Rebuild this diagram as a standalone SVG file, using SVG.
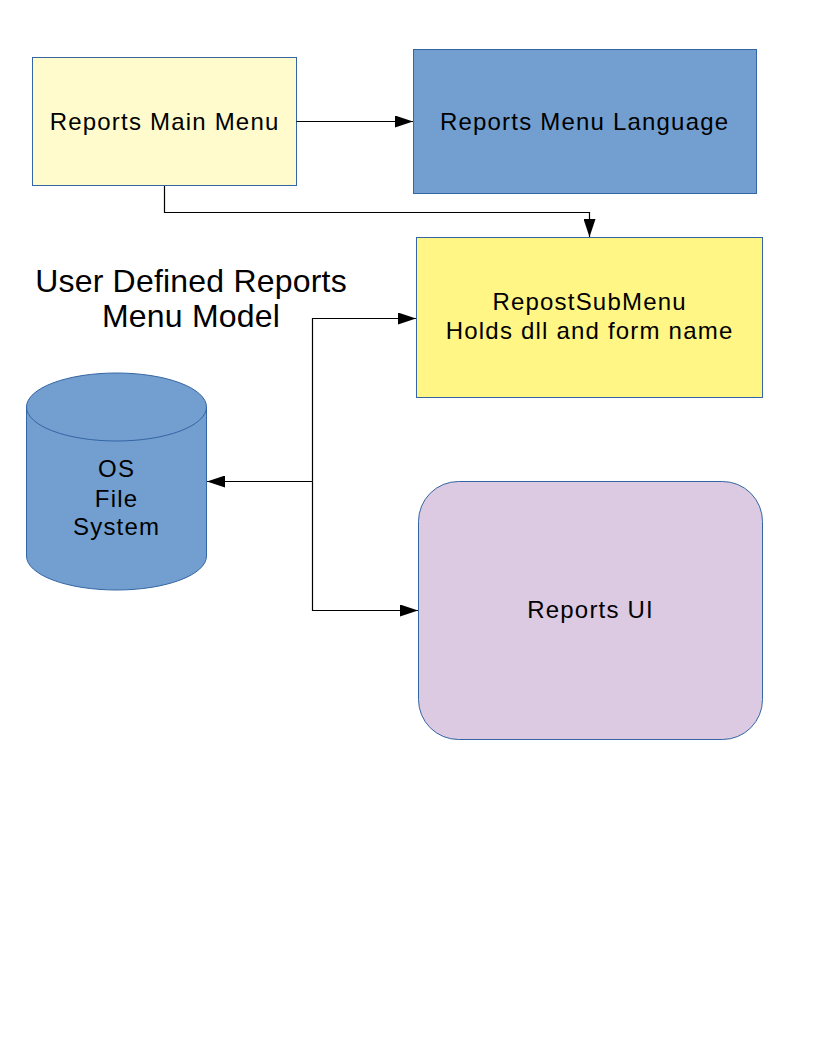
<svg xmlns="http://www.w3.org/2000/svg" width="816" height="1056" viewBox="0 0 816 1056">
<style>
text{font-family:"Liberation Sans",Arial,sans-serif;fill:#000;text-anchor:middle}
.n{font-size:24px;letter-spacing:1.2px}
.t{font-size:32px;letter-spacing:0.2px}
.box{stroke:#3465a4;stroke-width:1}
.c{fill:none;stroke:#000;stroke-width:1.2}
</style>
<defs>
<marker id="ah" markerUnits="userSpaceOnUse" markerWidth="18" markerHeight="12" refX="18" refY="6" orient="auto">
<path d="M0,0 L18,6 L0,12 Z" fill="#000"/>
</marker>
</defs>
<rect width="816" height="1056" fill="#fff"/>
<g id="title"><text class="t" x="191" y="292">User Defined Reports</text><text class="t" x="191" y="327">Menu Model</text></g>
<g id="mainmenu"><rect class="box" x="32.5" y="57.5" width="264" height="128" fill="#fffbcc"/><text class="n" x="164.6" y="130">Reports Main Menu</text></g>
<g id="language"><rect class="box" x="413.5" y="49.5" width="343" height="144" fill="#729fcf"/><text class="n" x="584.6" y="130">Reports Menu Language</text></g>
<g id="submenu"><rect class="box" x="416.5" y="237.5" width="346" height="160" fill="#fff685"/><text class="n" x="589.6" y="310">RepostSubMenu</text><text class="n" x="589.6" y="339">Holds dll and form name</text></g>
<g id="osfs"><path class="box" d="M26.5,407 L26.5,556 A90,34 0 0 0 206.5,556 L206.5,407 A90,34 0 0 0 26.5,407 Z" fill="#729fcf"/><path d="M26.5,407 A90,34 0 0 0 206.5,407" fill="none" stroke="#3465a4"/><text class="n" x="116.6" y="477">OS</text><text class="n" x="116.6" y="507">File</text><text class="n" x="116.6" y="535">System</text></g>
<g id="reportsui"><rect class="box" x="418.5" y="481.5" width="344" height="258" rx="40" ry="40" fill="#dcc9e2"/><text class="n" x="590.6" y="618">Reports UI</text></g>
<g id="connectors">
<path class="c" d="M296.5,121.5 L413,121.5" marker-end="url(#ah)"/>
<path class="c" d="M164.5,186 L164.5,212.5 L589.5,212.5 L589.5,237" marker-end="url(#ah)"/>
<path class="c" d="M312.5,481.5 L207,481.5" marker-end="url(#ah)"/>
<path class="c" d="M312.5,481.5 L312.5,318.5 L416,318.5" marker-end="url(#ah)"/>
<path class="c" d="M312.5,481.5 L312.5,610.5 L418,610.5" marker-end="url(#ah)"/>
</g>
</svg>
